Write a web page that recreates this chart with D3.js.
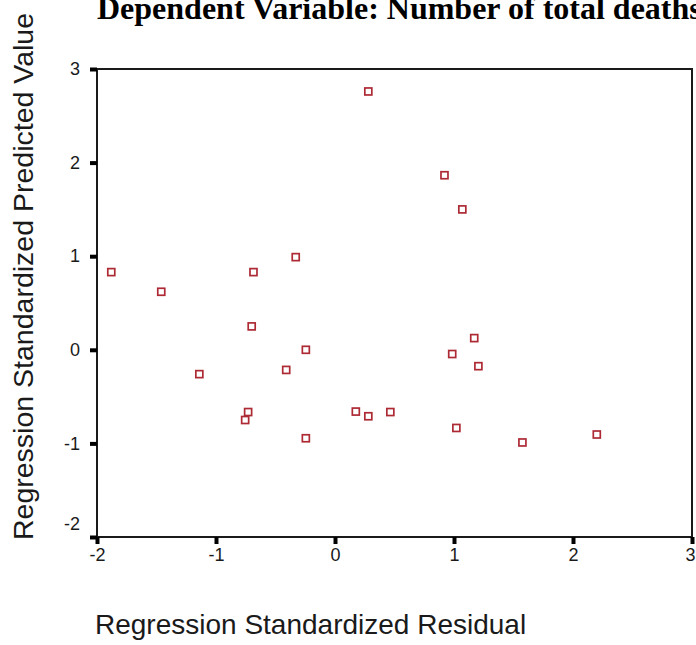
<!DOCTYPE html>
<html>
<head>
<meta charset="utf-8">
<script src="https://cdn.jsdelivr.net/npm/d3@7"></script>
<style>
  body { margin: 0; background: #fff; overflow: hidden; }
  svg { display: block; }
  .tick text { font-family: "Liberation Sans", Arial, sans-serif; font-size: 18px; fill: #1a1a1a; }
</style>
</head>
<body>
<svg id="chart" width="696" height="645"></svg>
<script>

// standardized residuals (x) and standardized predicted values (y)
var residuals = [-1.88, -1.46, -1.14, -0.73, -0.755, -0.70, -0.685, -0.41, -0.33, -0.245, -0.245,
                 0.175, 0.28, 0.28, 0.465, 0.92, 0.985, 1.02, 1.07, 1.17, 1.205, 1.575, 2.2];
var predicted = [0.83, 0.62, -0.26, -0.665, -0.75, 0.25, 0.83, -0.215, 0.99, 0.0, -0.945,
                 -0.66, 2.76, -0.71, -0.665, 1.865, -0.045, -0.835, 1.50, 0.125, -0.175, -0.99, -0.905];
var xTicks = [-2, -1, 0, 1, 2, 3];
var yTicks = [-2, -1, 0, 1, 2, 3];

var title = "Dependent Variable: Number of total deaths";
var xTitle = "Regression Standardized Residual";
var yTitle = "Regression Standardized Predicted Value";

var svg = d3.select("#chart");

var x = d3.scaleLinear().domain([-2, 3]).range([97, 692]);
var y = d3.scaleLinear().domain([-2, 3]).range([537, 69]);

// frame
svg.append("rect")
    .attr("x", x(-2))
    .attr("y", y(3))
    .attr("width", x(3) - x(-2))
    .attr("height", y(-2) - y(3))
    .attr("fill", "none")
    .attr("stroke", "#1a1a1a")
    .attr("stroke-width", 2);

var xAxis = svg.append("g")
    .attr("transform", "translate(0," + y(-2) + ")")
    .call(d3.axisBottom(x).tickValues(xTicks).tickSize(7).tickPadding(4)
            .tickFormat(function(d) { return String(d); }));

var yAxis = svg.append("g")
    .attr("transform", "translate(" + x(-2) + ",0)")
    .call(d3.axisLeft(y).tickValues(yTicks).tickSize(7).tickPadding(10)
            .tickFormat(function(d) { return String(d); }));

[xAxis, yAxis].forEach(function(a) {
    a.select(".domain").remove();
    a.selectAll(".tick line").attr("stroke", "#000").attr("stroke-width", 4);
});

// spss nudges the corner labels inward
yAxis.selectAll(".tick text").filter(function(d) { return d == -2; }).attr("dy", "-0.43em");
xAxis.selectAll(".tick text").filter(function(d) { return d == 3; })
    .attr("text-anchor", "end").attr("dx", 3);

// points
var pts = residuals.map(function(r, i) { return [r, predicted[i]]; });

svg.append("g")
    .selectAll("rect")
    .data(pts)
    .enter().append("rect")
    .attr("x", function(d) { return x(d[0]) - 3.5; })
    .attr("y", function(d) { return y(d[1]) - 3.5; })
    .attr("width", 7)
    .attr("height", 7)
    .attr("fill", "none")
    .attr("stroke", "#ad2a35")
    .attr("stroke-width", 1.7);

// titles
svg.append("text")
    .attr("x", 97)
    .attr("y", 19)
    .attr("font-family", "'Liberation Serif', 'Times New Roman', serif")
    .attr("font-weight", "bold")
    .attr("font-size", 32)
    .attr("fill", "#000")
    .text(title);

svg.append("text")
    .attr("x", 95)
    .attr("y", 634)
    .attr("font-family", "'Liberation Sans', Arial, sans-serif")
    .attr("font-size", 28)
    .attr("fill", "#1a1a1a")
    .text(xTitle);

svg.append("text")
    .attr("transform", "translate(33,540) rotate(-90)")
    .attr("font-family", "'Liberation Sans', Arial, sans-serif")
    .attr("font-size", 28.5)
    .attr("fill", "#1a1a1a")
    .text(yTitle);

</script>
</body>
</html>
